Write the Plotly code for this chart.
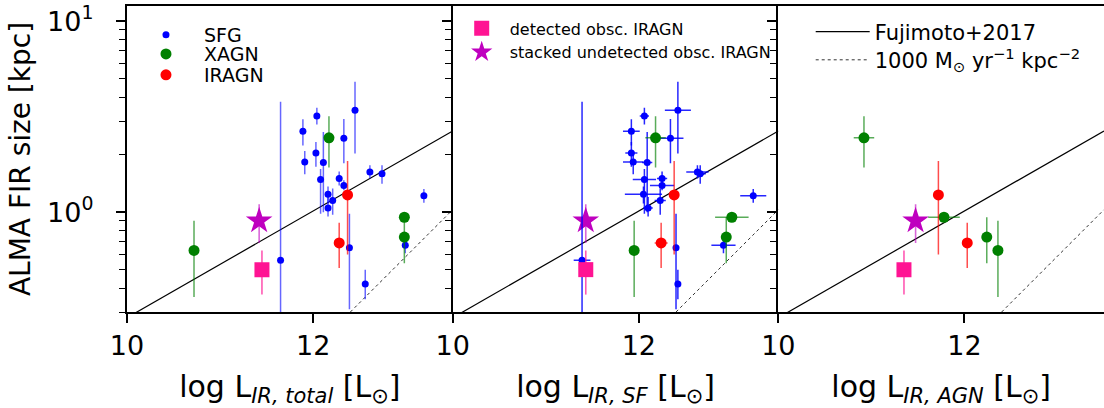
import numpy as np
import plotly.graph_objects as go

# ---------------- data ----------------
# SFG sample: FIR size [kpc] with upper/lower bounds
sfg_r = [2.65, 3.19, 1.83, 2.04, 1.82, 1.48, 3.42, 2.44, 1.50, 1.38, 1.24, 1.15, 1.05, 1.62, 1.59, 1.22, 0.65, 0.42, 0.67, 0.56]
sfg_r_hi = [3.06, 3.52, 2.09, 2.33, 2.63, 1.68, 4.81, 3.07, 1.63, 1.47, 1.36, 1.33, 1.20, 1.76, 1.76, 1.32, 0.98, 0.50, 0.71, 3.78]
sfg_r_lo = [2.23, 2.88, 1.58, 1.73, 1.00, 0.98, 2.03, 1.80, 1.38, 1.30, 1.11, 0.97, 0.95, 1.50, 1.41, 1.12, 0.31, 0.35, 0.61, 0.10]
sfg_ltot = [11.89, 12.04, 11.91, 12.03, 12.11, 12.08, 12.45, 12.33, 12.28, 12.33, 12.16, 12.21, 12.16, 12.61, 12.74, 13.19, 12.39, 12.56, 12.99, 11.65]
sfg_lsf = [11.92, 12.06, 11.94, 11.92, 12.09, 12.06, 12.42, 12.34, 12.25, 12.25, 12.05, 12.23, 12.10, 12.63, 12.66, 13.23, 12.40, 12.42, 12.91, 11.39]
sfg_lsf_err = [0.09, 0.05, 0.11, 0.065, 0.055, 0.125, 0.14, 0.14, 0.055, 0.13, 0.20, 0.06, 0.05, 0.12, 0.06, 0.14, 0.03, 0.03, 0.13, 0.09]

# X-ray AGN
xagn_r = [0.63, 2.45, 0.94, 0.74]
xagn_r_hi = [0.90, 3.18, 0.97, 0.94]
xagn_r_lo = [0.36, 1.71, 0.91, 0.54]
xagn_ltot = [10.72, 12.17, 12.98, 12.98]
xagn_lsf = [11.95, 12.18, 13.00, 12.94]
xagn_lsf_err = [0.0, 0.11, 0.18, 0.0]
xagn_lagn = [12.36, 10.92, 11.78, 12.24]
xagn_lagn_err = [0.0, 0.11, 0.17, 0.0]

# IR AGN
iragn_r = [1.23, 0.69]
iragn_r_hi = [1.85, 0.88]
iragn_r_lo = [0.60, 0.51]
iragn_ltot = [12.37, 12.28]
iragn_lsf = [12.38, 12.24]
iragn_lsf_err = [0.0, 0.07]
iragn_lagn = [11.72, 12.03]
iragn_lagn_err = [0.0, 0.05]

# detected obscured IRAGN (square)
det_r = [0.50]
det_r_hi = [0.63]
det_r_lo = [0.37]
det_ltot = [11.45]
det_lsf = [11.43]
det_lagn = [11.35]

# stacked undetected obscured IRAGN (star)
stk_r = [0.90]
stk_r_hi = [1.10]
stk_r_lo = [0.69]
stk_ltot = [11.42]
stk_lsf = [11.43]
stk_lagn = [11.475]

# reference relations (end points)
fuji_logL = [10.0, 13.5]
fuji_r = [0.28, 2.66]
sig_logL = [12.4, 13.5]
sig_r = [0.30, 1.03]

x_ticks = [10, 12]
x_ticktext = ["10", "12"]
y_ticks = [1, 10]
y_ticktext = ["10<sup>0</sup>\u00a0\u00a0", "10<sup>1</sup>\u00a0\u00a0"]
y_minor = [0.3, 0.4, 0.5, 0.6, 0.7, 0.8, 0.9, 2, 3, 4, 5, 6, 7, 8, 9]
x_titles = ["log L<sub><i>IR, total</i></sub> [L<sub>⊙</sub>]",
            "log L<sub><i>IR, SF</i></sub> [L<sub>⊙</sub>]",
            "log L<sub><i>IR, AGN</i></sub> [L<sub>⊙</sub>]"]

FONT = "DejaVu Sans"
BLUE, GREEN, RED, PINK, MAG = "#0000ff", "#008000", "#ff0000", "#ff1493", "#bf00bf"


def errs(v, hi, lo):
    v, hi, lo = np.array(v), np.array(hi), np.array(lo)
    return list(hi - v), list(v - lo)


fig = go.Figure()

panels = [
    dict(x="x", y="y", sfg=sfg_ltot, sfge=None, xg=xagn_ltot, xge=None, ir=iragn_ltot, ire=None,
         det=det_ltot, stk=stk_ltot, blue_err="rgba(0,0,255,0.6)"),
    dict(x="x2", y="y2", sfg=sfg_lsf, sfge=sfg_lsf_err, xg=xagn_lsf, xge=xagn_lsf_err, ir=iragn_lsf, ire=iragn_lsf_err,
         det=det_lsf, stk=stk_lsf, blue_err="rgba(0,0,255,0.85)"),
    dict(x="x3", y="y3", sfg=None, sfge=None, xg=xagn_lagn, xge=xagn_lagn_err, ir=iragn_lagn, ire=iragn_lagn_err,
         det=det_lagn, stk=stk_lagn, blue_err="rgba(0,0,255,0.6)"),
]

for i, p in enumerate(panels):
    # relations
    fig.add_trace(go.Scatter(x=fuji_logL, y=fuji_r, mode="lines", xaxis=p["x"], yaxis=p["y"],
                             line=dict(color="black", width=1.2), name="Fujimoto+2017",
                             showlegend=(i == 2), legend="legend3"))
    fig.add_trace(go.Scatter(x=sig_logL, y=sig_r, mode="lines", xaxis=p["x"], yaxis=p["y"],
                             line=dict(color="#333333", width=1, dash="dot"),
                             name="1000 M<sub>⊙</sub> yr<sup>−1</sup> kpc<sup>−2</sup>",
                             showlegend=(i == 2), legend="legend6"))

for i, p in enumerate(panels):
    # star
    up, dn = errs(stk_r, stk_r_hi, stk_r_lo)
    fig.add_trace(go.Scatter(x=p["stk"], y=stk_r, mode="markers", xaxis=p["x"], yaxis=p["y"],
                             marker=dict(symbol="star", size=20, color=MAG),
                             error_y=dict(type="data", symmetric=False, array=up, arrayminus=dn,
                                          color="rgba(191,0,191,0.6)", thickness=1.6, width=0),
                             name="stacked undetected obsc. IRAGN", showlegend=(i == 1),
                             legend="legend2", legendrank=2))
    # SFG
    if p["sfg"] is not None:
        up, dn = errs(sfg_r, sfg_r_hi, sfg_r_lo)
        kw = {}
        if p["sfge"] is not None:
            kw["error_x"] = dict(type="data", array=p["sfge"], color=p["blue_err"], thickness=1.5, width=0)
        fig.add_trace(go.Scatter(x=p["sfg"], y=sfg_r, mode="markers", xaxis=p["x"], yaxis=p["y"],
                                 marker=dict(symbol="circle", size=7, color=BLUE),
                                 error_y=dict(type="data", symmetric=False, array=up, arrayminus=dn,
                                              color=p["blue_err"], thickness=1.5, width=0),
                                 name="SFG", showlegend=(i == 0), legend="legend", **kw))
    # XAGN
    up, dn = errs(xagn_r, xagn_r_hi, xagn_r_lo)
    kw = {}
    if p["xge"] is not None:
        kw["error_x"] = dict(type="data", array=p["xge"], color="rgba(0,128,0,0.65)", thickness=1.5, width=0)
    fig.add_trace(go.Scatter(x=p["xg"], y=xagn_r, mode="markers", xaxis=p["x"], yaxis=p["y"],
                             marker=dict(symbol="circle", size=11, color=GREEN),
                             error_y=dict(type="data", symmetric=False, array=up, arrayminus=dn,
                                          color="rgba(0,128,0,0.65)", thickness=1.5, width=0),
                             name="XAGN", showlegend=(i == 0), legend="legend4", **kw))
    # IRAGN
    up, dn = errs(iragn_r, iragn_r_hi, iragn_r_lo)
    kw = {}
    if p["ire"] is not None:
        kw["error_x"] = dict(type="data", array=p["ire"], color="rgba(255,0,0,0.65)", thickness=1.5, width=0)
    fig.add_trace(go.Scatter(x=p["ir"], y=iragn_r, mode="markers", xaxis=p["x"], yaxis=p["y"],
                             marker=dict(symbol="circle", size=11, color=RED),
                             error_y=dict(type="data", symmetric=False, array=up, arrayminus=dn,
                                          color="rgba(255,0,0,0.7)", thickness=1.5, width=0),
                             name="IRAGN", showlegend=(i == 0), legend="legend5", **kw))
    # detected obscured IRAGN
    up, dn = errs(det_r, det_r_hi, det_r_lo)
    fig.add_trace(go.Scatter(x=p["det"], y=det_r, mode="markers", xaxis=p["x"], yaxis=p["y"],
                             marker=dict(symbol="square", size=15, color=PINK),
                             error_y=dict(type="data", symmetric=False, array=up, arrayminus=dn,
                                          color="rgba(255,20,147,0.7)", thickness=1.6, width=0),
                             name="detected obsc. IRAGN", showlegend=(i == 1),
                             legend="legend2", legendrank=1))

doms = [[0.0, 0.3334], [0.3334, 0.6667], [0.6667, 1.0]]
layout = dict(
    width=1104, height=408,
    margin=dict(l=127, r=0, t=6, b=96, autoexpand=False),
    paper_bgcolor="white", plot_bgcolor="white",
    font=dict(family=FONT, color="black"),
    showlegend=True,
)
for i in range(3):
    sx = "" if i == 0 else str(i + 1)
    layout["xaxis" + sx] = dict(
        domain=doms[i], range=[10, 13.5], anchor="y" + sx, automargin=False,
        tickvals=x_ticks, ticktext=x_ticktext, ticks="outside", ticklen=9, tickwidth=1.6,
        tickcolor="black", showline=True, linecolor="black", linewidth=2, mirror=True,
        showgrid=False, zeroline=False, tickfont=dict(size=27, family=FONT),
        title=dict(text=x_titles[i], font=dict(size=30, family=FONT), standoff=24),
    )
    layout["yaxis" + sx] = dict(
        type="log", range=[np.log10(0.3), np.log10(12)], anchor="x" + sx, domain=[0, 1],
        automargin=False,
        tickvals=y_ticks, ticktext=y_ticktext, ticks="outside", ticklen=9, tickwidth=1.6,
        tickcolor="black", showline=True, linecolor="black", linewidth=2, mirror=False,
        showgrid=False, zeroline=False, showticklabels=(i == 0),
        tickfont=dict(size=27, family=FONT),
        minor=dict(tickvals=y_minor, ticks="outside", ticklen=6, tickwidth=1.2, tickcolor="black", showgrid=False),
    )
layout["yaxis"]["title"] = dict(text="ALMA FIR size [kpc]", font=dict(size=28, family=FONT), standoff=8)

leg_common = dict(xanchor="left", yanchor="top", bgcolor="rgba(0,0,0,0)", itemsizing="trace")
layout["legend"] = dict(x=0.001, y=0.968, font=dict(size=19, family=FONT), itemwidth=66, **leg_common)
layout["legend4"] = dict(x=0.001, y=0.905, font=dict(size=19, family=FONT), itemwidth=66, **leg_common)
layout["legend5"] = dict(x=0.001, y=0.8367, font=dict(size=19, family=FONT), itemwidth=66, **leg_common)
layout["legend2"] = dict(x=0.3344, y=0.9825, font=dict(size=16, family=FONT), itemwidth=46,
                         traceorder="normal", **leg_common)
layout["legend3"] = dict(x=0.6998, y=0.982, font=dict(size=21, family=FONT), itemwidth=54, **leg_common)
layout["legend6"] = dict(x=0.6998, y=0.89, font=dict(size=21, family=FONT), itemwidth=54, **leg_common)
fig.update_layout(**layout)

fig.write_html("out.html")
